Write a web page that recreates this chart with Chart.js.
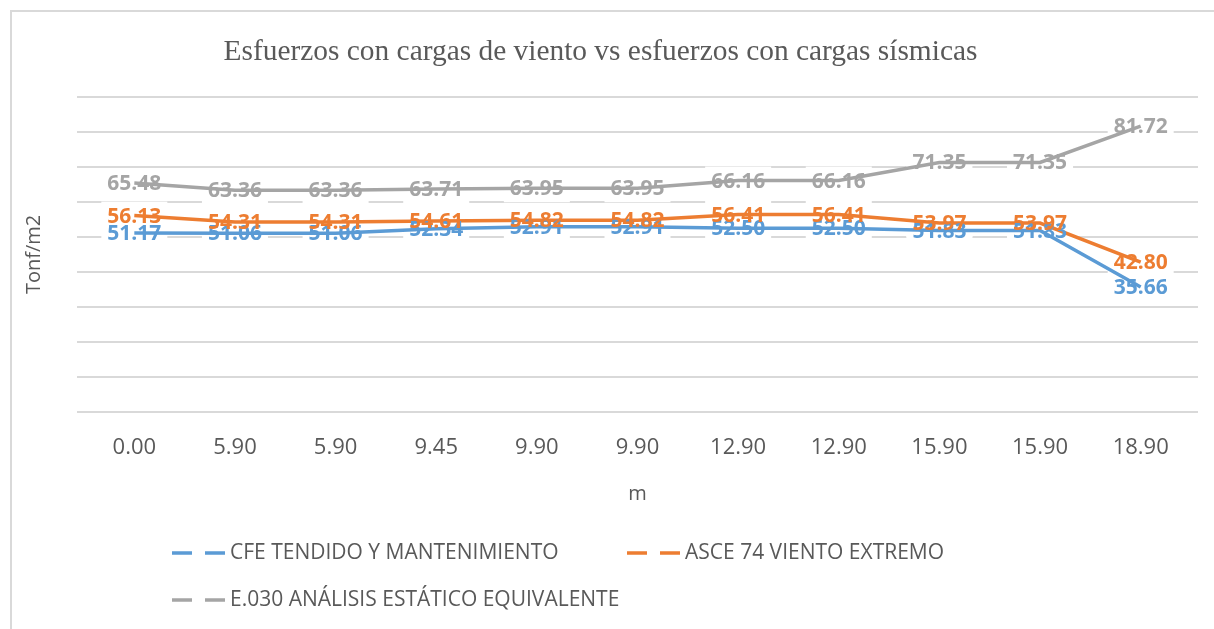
<!DOCTYPE html>
<html>
<head>
<meta charset="utf-8">
<script src="https://cdn.jsdelivr.net/npm/chart.js@4.4.0/dist/chart.umd.min.js"></script>
<style>
  html, body { margin: 0; padding: 0; background: #fff; }
  #wrap { position: relative; width: 1214px; height: 629px; }
  #frame { position: absolute; left: 10px; top: 10px; width: 1220px; height: 640px; border: 2px solid #d9d9d9; box-sizing: border-box; }
  canvas { position: absolute; left: 0; top: 0; }
</style>
</head>
<body>
<div id="wrap">
  <div id="frame"></div>
  <canvas id="canvas" width="1214" height="629"></canvas>
</div>
<script>
var categories = ['0.00', '5.90', '5.90', '9.45', '9.90', '9.90', '12.90', '12.90', '15.90', '15.90', '18.90'];
var cfeValues = [51.17, 51.06, 51.06, 52.34, 52.91, 52.91, 52.50, 52.50, 51.83, 51.83, 35.66];
var asceValues = [56.13, 54.31, 54.31, 54.61, 54.82, 54.82, 56.41, 56.41, 53.97, 53.97, 42.80];
var e030Values = [65.48, 63.36, 63.36, 63.71, 63.95, 63.95, 66.16, 66.16, 71.35, 71.35, 81.72];

var textColor = '#595959';
var sans = '"Open Sans", "Noto Sans", sans-serif';

// gridlines run a bit past the category area, like in Excel
var wideGrid = {
        id: 'wideGrid',
        beforeDatasetsDraw: function(chart) {
                var ctx = chart.ctx, y = chart.scales.y, area = chart.chartArea;
                ctx.save();
                ctx.strokeStyle = '#d9d9d9';
                ctx.lineWidth = 2;
                y.ticks.forEach(function(t) {
                        var py = Math.round(y.getPixelForValue(t.value));
                        ctx.beginPath();
                        ctx.moveTo(area.left - 7, py);
                        ctx.lineTo(area.right + 7, py);
                        ctx.stroke();
                });
                ctx.restore();
        }
};

// value labels: white patch behind the lines, text on top
var valueLabels = {
        id: 'valueLabels',
        labelBoxes: function(chart) {
                var ctx = chart.ctx;
                var out = [];
                ctx.save();
                ctx.font = 'bold 21px ' + sans;
                chart.data.datasets.forEach(function(ds, i) {
                        chart.getDatasetMeta(i).data.forEach(function(pt, j) {
                                var txt = ds.data[j].toFixed(2);
                                out.push({x: pt.x, y: pt.y, w: ctx.measureText(txt).width, txt: txt, color: ds.borderColor});
                        });
                });
                ctx.restore();
                return out;
        },
        beforeDatasetsDraw: function(chart) {
                var ctx = chart.ctx;
                ctx.save();
                ctx.fillStyle = '#ffffff';
                this.labelBoxes(chart).forEach(function(b) {
                        ctx.fillRect(b.x - b.w / 2 - 6, b.y - 14, b.w + 12, 28);
                });
                ctx.restore();
        },
        afterDatasetsDraw: function(chart) {
                var ctx = chart.ctx;
                ctx.save();
                ctx.font = 'bold 21px ' + sans;
                ctx.textAlign = 'center';
                ctx.textBaseline = 'middle';
                this.labelBoxes(chart).forEach(function(b) {
                        ctx.fillStyle = b.color;
                        ctx.fillText(b.txt, b.x, b.y + 1);
                });
                ctx.restore();
        }
};

// legend laid out like the original (two columns, left aligned)
var bottomLegend = {
        id: 'bottomLegend',
        afterDraw: function(chart) {
                var ctx = chart.ctx;
                var spots = [[172, 553], [627, 553], [172, 600]];
                ctx.save();
                ctx.font = '21px ' + sans;
                ctx.textBaseline = 'middle';
                chart.data.datasets.forEach(function(ds, i) {
                        var x = spots[i][0], y = spots[i][1];
                        ctx.strokeStyle = ds.borderColor;
                        ctx.lineWidth = 3.5;
                        ctx.beginPath();
                        ctx.moveTo(x, y); ctx.lineTo(x + 20, y);
                        ctx.moveTo(x + 33, y); ctx.lineTo(x + 53, y);
                        ctx.stroke();
                        ctx.fillStyle = textColor;
                        ctx.fillText(ds.label, x + 58, y);
                });
                ctx.restore();
        }
};

var config = {
        type: 'line',
        data: {
                labels: categories,
                datasets: [{
                        label: 'CFE TENDIDO Y MANTENIMIENTO',
                        data: cfeValues,
                        borderColor: '#5B9BD5',
                        backgroundColor: '#5B9BD5'
                }, {
                        label: 'ASCE 74 VIENTO EXTREMO',
                        data: asceValues,
                        borderColor: '#ED7D31',
                        backgroundColor: '#ED7D31'
                }, {
                        label: 'E.030 ANÁLISIS ESTÁTICO EQUIVALENTE',
                        data: e030Values,
                        borderColor: '#A5A5A5',
                        backgroundColor: '#A5A5A5'
                }]
        },
        options: {
                responsive: false,
                animation: false,
                events: [],
                elements: {
                        line: { borderWidth: 3.5, tension: 0, fill: false },
                        point: { radius: 0 }
                },
                layout: { padding: { left: 10, right: 23, top: 10, bottom: 125 } },
                plugins: {
                        legend: { display: false },
                        tooltip: { enabled: false },
                        title: {
                                display: true,
                                text: 'Esfuerzos con cargas de viento vs esfuerzos con cargas sísmicas',
                                color: textColor,
                                font: { family: '"Liberation Serif", "Times New Roman", serif', size: 29.4, weight: 'normal' },
                                padding: { top: 25, bottom: 27 }
                        }
                },
                scales: {
                        x: {
                                offset: true,
                                grid: { display: false, drawTicks: false },
                                border: { display: false },
                                ticks: { color: textColor, font: { family: sans, size: 22 }, padding: 23 },
                                title: { display: true, text: 'm', color: textColor, font: { family: sans, size: 20, lineHeight: 1 }, padding: { top: 0, bottom: 0 } }
                        },
                        y: {
                                min: 0,
                                max: 90,
                                afterFit: function(scale) { scale.width = 74; },
                                grid: { display: false, drawTicks: false },
                                border: { display: false },
                                ticks: { display: false, stepSize: 10 },
                                title: { display: true, text: 'Tonf/m2', color: textColor, font: { family: sans, size: 20 }, padding: { top: 12 } }
                        }
                }
        },
        plugins: [wideGrid, valueLabels, bottomLegend]
};

window.onload = function() {
        var ctx = document.getElementById('canvas').getContext('2d');
        window.myLine = new Chart(ctx, config);
};
</script>
</body>
</html>
